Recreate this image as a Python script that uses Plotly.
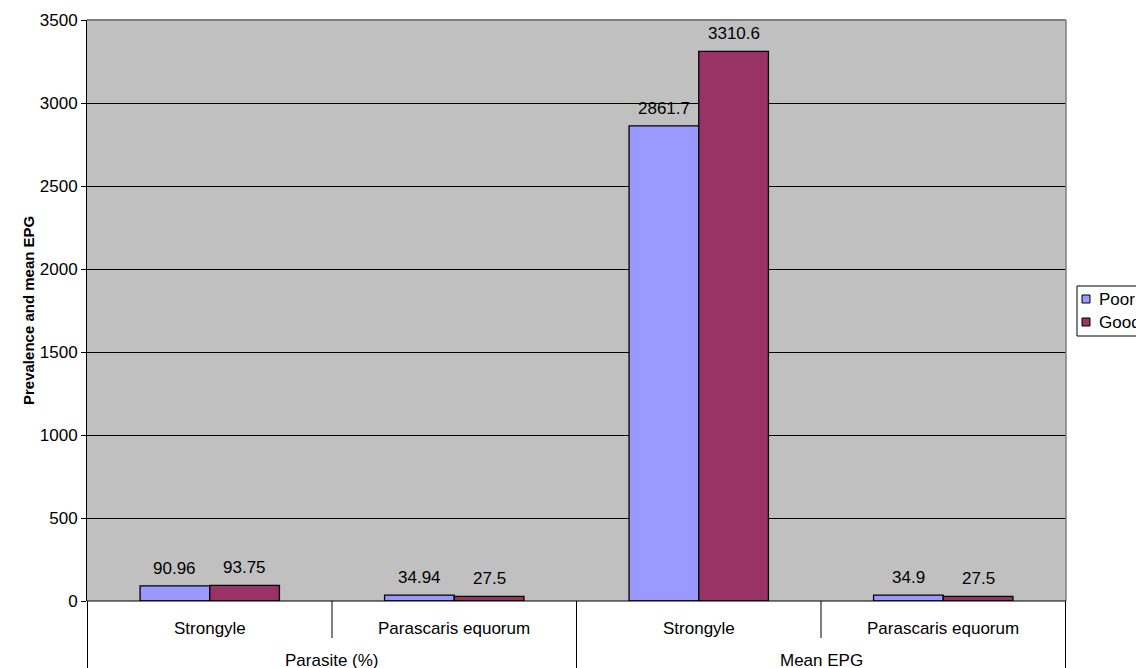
import plotly.graph_objects as go

groups = ["Parasite (%)", "Parasite (%)", "Mean EPG", "Mean EPG"]
subcats = ["Strongyle", "Parascaris equorum", "Strongyle", "Parascaris equorum"]
series_names = ["Poor", "Good"]
series_colors = ["#9999FF", "#993366"]
poor = [90.96, 34.94, 2861.7, 34.9]
good = [93.75, 27.5, 3310.6, 27.5]
poor_labels = ["90.96", "34.94", "2861.7", "34.9"]
good_labels = ["93.75", "27.5", "3310.6", "27.5"]
y_ticks = [0, 500, 1000, 1500, 2000, 2500, 3000, 3500]

xkeys = [f"{g}|{s}" for g, s in zip(groups, subcats)]
FONT = "Arial, Liberation Sans, sans-serif"
FS = 17

W, H = 1136, 668
ML, MR, MT, MB = 87, 70, 20, 67
BARGAP = 0.43
plot_w = W - ML - MR
plot_h = H - MT - MB
bar_w = plot_w / len(xkeys) * (1 - BARGAP) / 2


def px(x):
    return (x - ML) / plot_w


def py(y):
    return (H - MB - y) / plot_h


fig = go.Figure()
for name, col, vals in zip(series_names, series_colors, (poor, good)):
    fig.add_trace(go.Bar(name=name, x=xkeys, y=vals, showlegend=False,
                         marker=dict(color=col, line=dict(color="black", width=1.3))))

# data labels
for vals, labs, sgn in ((poor, poor_labels, -1), (good, good_labels, 1)):
    for k, v, t in zip(xkeys, vals, labs):
        fig.add_annotation(x=k, y=v, xref="x", yref="y", text=t, showarrow=False,
                           xshift=sgn * bar_w / 2, yanchor="bottom", yshift=6,
                           font=dict(family=FONT, size=FS, color="black"))

fig.update_layout(
    width=W, height=H,
    margin=dict(l=ML, r=MR, t=MT, b=MB, autoexpand=False),
    paper_bgcolor="white", plot_bgcolor="#C0C0C0",
    barmode="group", bargap=BARGAP, bargroupgap=0,
    font=dict(family=FONT, size=FS, color="black"),
    showlegend=False,
    xaxis=dict(type="category", showticklabels=False, ticks="",
               showgrid=False, zeroline=False, showline=False),
    yaxis=dict(range=[0, 3500], tickvals=y_ticks, ticks="outside", ticklen=5,
               tickcolor="black", showline=True, linecolor="black", linewidth=1,
               gridcolor="black", gridwidth=1, zeroline=False,
               tickfont=dict(family=FONT, size=FS, color="black")),
)

# plot-area border (top/right) in grey
fig.add_shape(type="line", xref="paper", yref="paper", x0=0, x1=1, y0=1, y1=1,
              line=dict(color="#808080", width=2))
fig.add_shape(type="line", xref="paper", yref="paper", x0=1, x1=1, y0=0, y1=1,
              line=dict(color="#808080", width=1.5))
# baseline
fig.add_shape(type="line", xref="paper", yref="paper", x0=0, x1=1, y0=0, y1=0,
              line=dict(color="black", width=1))

# category separators (short) and group separators (long)
for i in range(len(xkeys) + 1):
    pos = i - 0.5
    is_group_edge = i == 0 or i == len(xkeys) or groups[i] != groups[i - 1]
    ybot = -MB / plot_h if is_group_edge else -37 / plot_h
    fig.add_shape(type="line", xref="x", yref="paper", x0=pos, x1=pos, y0=0, y1=ybot,
                  line=dict(color="black", width=1))

# category labels
for i, s in enumerate(subcats):
    fig.add_annotation(x=xkeys[i], y=0, xref="x", yref="paper", text=s,
                       showarrow=False, yanchor="middle", yshift=-27,
                       font=dict(family=FONT, size=FS, color="black"))

# group labels
seen = []
for g in groups:
    if g not in seen:
        seen.append(g)
for g in seen:
    idx = [i for i, gg in enumerate(groups) if gg == g]
    center = (idx[0] + idx[-1]) / 2
    fig.add_annotation(x=center, y=0, xref="x", yref="paper", text=g,
                       showarrow=False, yanchor="middle", yshift=-59,
                       font=dict(family=FONT, size=FS, color="black"))

fig.add_annotation(x=0, y=0.5, xref="paper", yref="paper", xshift=-69,
                   text="<b>Prevalence and mean EPG</b>", textangle=-90, showarrow=False,
                   font=dict(family=FONT, size=15, color="black"))

# legend (Excel-style, running off the right edge)
fig.add_shape(type="rect", xref="paper", yref="paper",
              x0=px(1077), x1=px(1160), y0=py(286), y1=py(336),
              line=dict(color="black", width=1), fillcolor="white", layer="above")
for j, (name, col) in enumerate(zip(series_names, series_colors)):
    cy = 299 + j * 23
    fig.add_shape(type="rect", xref="paper", yref="paper",
                  x0=px(1082), x1=px(1090), y0=py(cy + 4), y1=py(cy - 4),
                  line=dict(color="black", width=1), fillcolor=col, layer="above")
    fig.add_annotation(x=px(1097), y=py(cy), xref="paper", yref="paper", text=name,
                       showarrow=False, xanchor="left", yanchor="middle",
                       font=dict(family=FONT, size=FS, color="black"))

fig.write_html("out.html")
